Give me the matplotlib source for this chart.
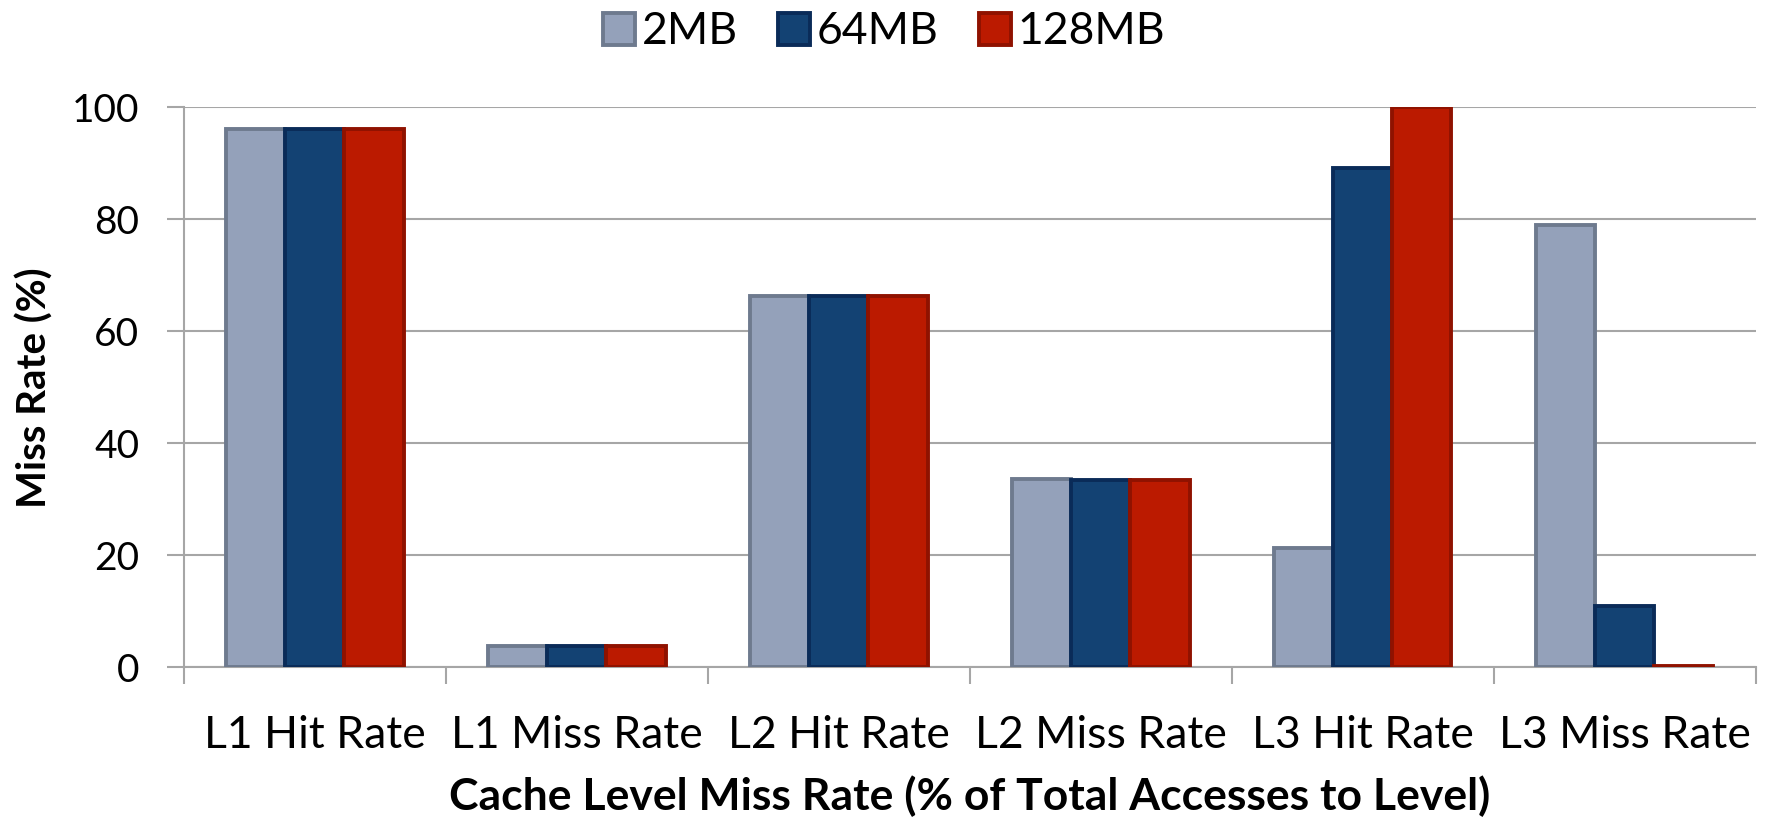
import numpy as np
import matplotlib
matplotlib.use("Agg")
import matplotlib.pyplot as plt

plt.rcParams['font.family'] = ['Lato', 'DejaVu Sans']

categories = ["L1 Hit Rate", "L1 Miss Rate", "L2 Hit Rate",
              "L2 Miss Rate", "L3 Hit Rate", "L3 Miss Rate"]
series_names = ["2MB", "64MB", "128MB"]
vals_2mb = [96.2, 3.8, 66.4, 33.6, 21.3, 79.0]
vals_64mb = [96.2, 3.8, 66.4, 33.4, 89.1, 11.0]
vals_128mb = [96.2, 3.8, 66.4, 33.4, 100.0, 0.3]

fills = ["#94a1ba", "#134273", "#bb1a00"]
edges = ["#6e7a8e", "#0a2b58", "#8f1200"]

fig = plt.figure(figsize=(17.68, 8.19), dpi=100)
ax = fig.add_axes([0.104, 0.185, 0.889, 0.684])

x = np.arange(len(categories))
w = 0.226
for i, (name, vals) in enumerate(zip(series_names, [vals_2mb, vals_64mb, vals_128mb])):
    ax.bar(x + (i - 1) * w, vals, width=w, color=fills[i], edgecolor=edges[i],
           linewidth=2.8, label=name, zorder=3)

ax.set_xlim(-0.5, len(categories) - 0.5)
ax.set_ylim(0, 100)
ax.set_yticks(np.arange(0, 101, 20))
ax.yaxis.grid(True, color="#a6a6a6", linewidth=1.5, zorder=0)
ax.set_axisbelow(True)

# category labels centred, tick marks at the boundaries
ax.set_xticks(x)
ax.set_xticklabels(categories, fontsize=32)
ax.tick_params(axis='x', which='major', length=0, pad=34)
ax.set_xticks(np.arange(-0.5, len(categories)), minor=True)
ax.tick_params(axis='x', which='minor', length=12, width=1.5, color="#a6a6a6")
ax.tick_params(axis='y', length=12, width=1.5, color="#a6a6a6", labelsize=28, pad=20)

for s in ["top", "right"]:
    ax.spines[s].set_visible(False)
for s in ["left", "bottom"]:
    ax.spines[s].set_color("#a6a6a6")
    ax.spines[s].set_linewidth(1.5)

ax.set_ylabel("Miss Rate (%)", fontsize=29, fontweight="bold", labelpad=13)
ax.set_xlabel("Cache Level Miss Rate (% of Total Accesses to Level)",
              fontsize=32, fontweight="bold", labelpad=14)

fig.legend(loc="upper center", bbox_to_anchor=(0.5, 1.035), ncol=3, frameon=False,
           fontsize=32, handlelength=0.72, handleheight=0.72, handletextpad=0.15,
           columnspacing=0.9)

fig.savefig("out.png", dpi=100)
